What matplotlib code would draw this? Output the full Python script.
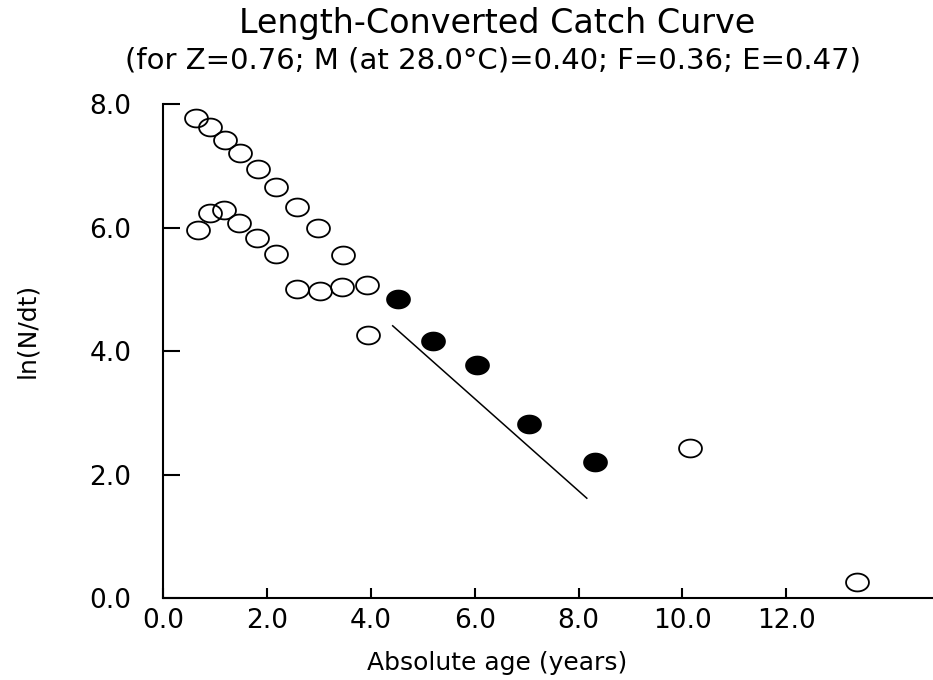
import numpy as np
import matplotlib
matplotlib.use("Agg")
import matplotlib.pyplot as plt
from matplotlib.path import Path

# points
open_age = [0.63, 0.90, 1.19, 1.48, 1.83, 2.18, 2.57, 2.99, 3.46,
            0.67, 0.90, 1.17, 1.46, 1.80, 2.17, 2.57, 3.01, 3.44, 3.92,
            3.95, 10.14, 13.36]
open_ln = [7.78, 7.62, 7.42, 7.20, 6.94, 6.65, 6.34, 5.99, 5.56,
           5.96, 6.23, 6.29, 6.08, 5.83, 5.58, 5.00, 4.97, 5.04, 5.07,
           4.26, 2.44, 0.27]

used_age = [4.52, 5.20, 6.04, 7.05, 8.31]
used_ln = [4.85, 4.16, 3.78, 2.82, 2.21]

fit_age = [4.42, 8.16]
fit_ln = [4.41, 1.62]

xticks = [0, 2, 4, 6, 8, 10, 12]
yticks = [0, 2, 4, 6, 8]

plt.rcParams['font.family'] = ['DejaVu Sans']

# slightly flattened circle, like the original bitmap markers
t = np.linspace(0, 2 * np.pi, 41)
ellipse = Path(np.column_stack([np.cos(t), 0.78 * np.sin(t)]), closed=True)

W, H = 933, 680
fig = plt.figure(figsize=(W / 100, H / 100), dpi=100)
x0, y0, x1, y1 = 163.3, 598.3, 933, 104
ax = fig.add_axes([x0 / W, 1 - y0 / H, (x1 - x0) / W, (y0 - y1) / H])

ax.plot(fit_age, fit_ln, color='black', lw=1.1)
ax.plot(open_age, open_ln, ls='none', marker=ellipse, ms=16.5,
        mfc='none', mec='black', mew=1.3, clip_on=False)
ax.plot(used_age, used_ln, ls='none', marker=ellipse, ms=16.5,
        mfc='black', mec='black', mew=1.3, clip_on=False)

ax.set_xlim(0, (x1 - x0) / 51.9)
ax.set_ylim(0, 8)
ax.set_xticks(xticks)
ax.set_xticklabels([f"{v:.1f}" for v in xticks])
ax.set_yticks(yticks)
ax.set_yticklabels([f"{v:.1f}" for v in yticks])

for s in ['top', 'right']:
    ax.spines[s].set_visible(False)
for s in ['left', 'bottom']:
    ax.spines[s].set_linewidth(1.5)

ax.tick_params(axis='x', direction='in', length=7, width=1.5, pad=7, labelsize=19)
ax.tick_params(axis='y', direction='in', length=12, width=1.5, pad=23, labelsize=19)

fig.text(497 / W, 1 - 23 / H, "Length-Converted Catch Curve",
         ha='center', va='center', fontsize=24)
fig.text(493 / W, 1 - 61 / H,
         "(for Z=0.76; M (at 28.0\u00b0C)=0.40; F=0.36; E=0.47)",
         ha='center', va='center', fontsize=21)
fig.text(497 / W, 1 - 663 / H, "Absolute age (years)",
         ha='center', va='center', fontsize=18)
fig.text(27 / W, 1 - 330 / H, "ln(N/dt)", rotation=90,
         ha='center', va='center', fontsize=18)

fig.savefig("out.png", dpi=100)
